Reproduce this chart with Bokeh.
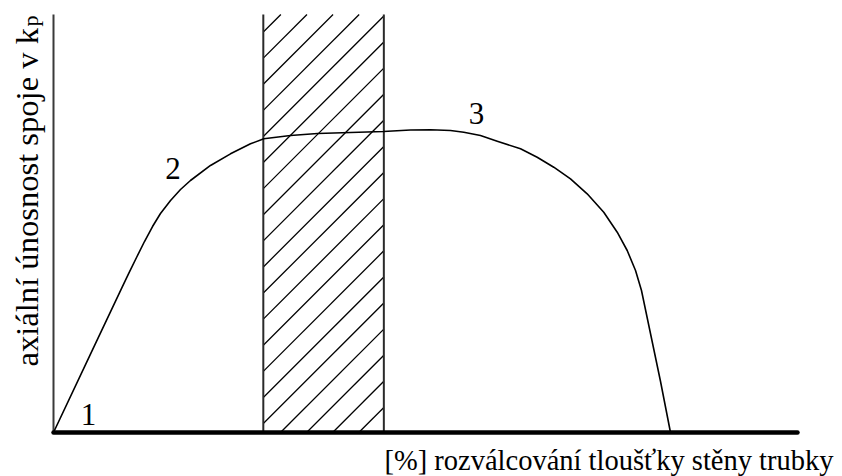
from math import pi
from bokeh.plotting import figure
from bokeh.models import Range1d, Label
from bokeh.embed import file_html
from bokeh.resources import INLINE

# ---- data (arbitrary units: x = % rolling of tube wall, y = axial strength) ----
curve_x = [0.0, 4.97, 9.23, 10.08, 11.16, 12.23, 13.31, 14.38, 15.73, 17.07, 18.41,
           21.10, 23.79, 26.48, 28.27, 31.85, 35.48, 39.92, 44.35, 47.98, 50.67, 53.36,
           55.15, 57.39, 59.64, 62.77, 65.01, 67.24, 69.49, 71.73, 73.96, 75.77, 77.11,
           78.23, 79.03, 80.24, 81.59, 82.93]
curve_y = [0.0, 18.73, 34.76, 37.94, 41.87, 45.69, 49.28, 52.39, 55.50, 58.13, 60.29,
           63.88, 66.67, 69.07, 70.26, 71.05, 71.53, 71.77, 72.01, 72.37, 72.42, 72.25,
           71.84, 71.05, 69.69, 67.87, 65.86, 63.47, 60.69, 57.11, 52.70, 47.92, 43.54,
           38.76, 33.97, 23.68, 12.20, 0.0]
band_left = 28.2
band_right = 44.4
axis_top = 100.0
axis_end = 100.0
region_labels = ["1", "2", "3"]
region_x = [4.7, 16.06, 56.85]
region_y = [4.3, 63.25, 76.35]
x_title = "[%] rozválcování tloušťky stěny trubky"
y_title = "axiální únosnost spoje v k"
y_title_sub = "p"

# ---- style ----
FONT = "'Liberation Serif', 'Times New Roman', serif"
W, H = 840, 476
X_PX, Y_PX = 7.44, 4.18          # pixels per data unit
ORIGIN_X, ORIGIN_Y = 53, 432     # pixel position of the data origin
HATCH_SPACING = 26.1 / Y_PX      # vertical spacing of hatch lines (data units)
HATCH_START = 95.8               # first hatch line on band's left edge (data units)

p = figure(width=W, height=H, output_backend="svg", toolbar_location=None,
           x_range=Range1d(-ORIGIN_X / X_PX, (W - ORIGIN_X) / X_PX),
           y_range=Range1d(-(H - ORIGIN_Y) / Y_PX, ORIGIN_Y / Y_PX),
           min_border_left=0, min_border_right=0, min_border_top=0, min_border_bottom=0,
           title=None)
p.axis.visible = False
p.grid.visible = False
p.outline_line_color = None
p.background_fill_color = "white"
p.border_fill_color = "white"

# hatch lines of the band (45 degrees on screen)
s = X_PX / Y_PX
wband = band_right - band_left
hx0, hy0, hx1, hy1 = [], [], [], []
c = HATCH_START
while c + HATCH_SPACING <= axis_top:
    c += HATCH_SPACING
while c + s * wband > 0:
    if c >= 0:
        xs, ys = band_left, c
    else:
        xs, ys = band_left - c / s, 0.0
    ye = c + s * wband
    if ye <= axis_top:
        xe = band_right
    else:
        xe, ye = band_left + (axis_top - c) / s, axis_top
    hx0.append(xs); hy0.append(ys); hx1.append(xe); hy1.append(ye)
    c -= HATCH_SPACING
p.segment(x0=hx0, y0=hy0, x1=hx1, y1=hy1, line_color="black", line_width=1.3)

# band edges
p.segment(x0=[band_left, band_right], y0=[0, 0], x1=[band_left, band_right],
          y1=[axis_top, axis_top], line_color="#2a2a2a", line_width=2)

# y axis line
p.segment(x0=[0], y0=[0], x1=[0], y1=[axis_top], line_color="#3a3a3a", line_width=2)

# curve
p.line(curve_x, curve_y, line_color="black", line_width=1.6, line_join="round")

# x axis (thick)
p.segment(x0=[0], y0=[0], x1=[axis_end], y1=[0], line_color="black", line_width=4.5,
          line_cap="round")

for t, xx, yy in zip(region_labels, region_x, region_y):
    p.add_layout(Label(x=xx, y=yy, text=t, text_font=FONT, text_font_size="31px",
                       text_align="center", text_baseline="alphabetic", text_color="black"))

p.add_layout(Label(x=(833 - ORIGIN_X) / X_PX, y=-6.7, text=x_title, text_font=FONT,
                   text_font_size="28.5px", text_align="right",
                   text_baseline="alphabetic", text_color="black"))
p.add_layout(Label(x=-3.5, y=15.8, text=y_title, text_font=FONT, text_font_size="32.6px",
                   text_align="left", text_baseline="alphabetic", angle=pi / 2,
                   text_color="black"))
p.add_layout(Label(x=-3.03, y=97.1, text=y_title_sub, text_font=FONT,
                   text_font_size="22px", text_align="left", text_baseline="alphabetic",
                   angle=pi / 2, text_color="black"))

open("out.html", "w").write(file_html(p, INLINE))
